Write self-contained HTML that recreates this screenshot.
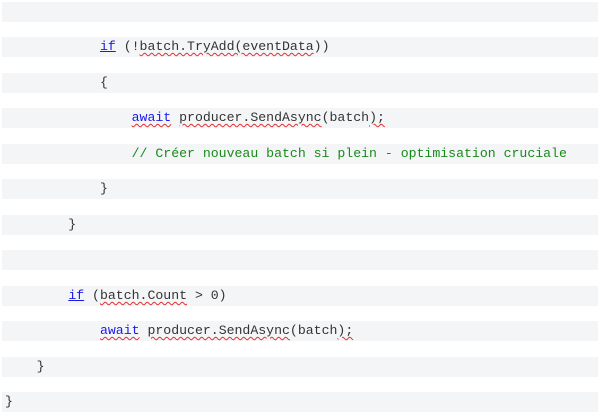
<!DOCTYPE html>
<html><head><meta charset="utf-8"><style>
html,body{margin:0;padding:0;background:#fff;width:600px;height:416px;overflow:hidden;position:relative}
.s{position:absolute;left:2px;width:596px;height:20px;background:#f4f5f7}
.l{position:absolute;left:5px;height:20px;line-height:20px;font-family:"Liberation Mono",monospace;font-size:13.2px;color:#333;white-space:pre}
.k{color:#1a1ae6}
.u{text-decoration:underline;text-decoration-color:#1a1ae6}
.w{text-decoration:underline wavy #e03030;text-decoration-thickness:1px;text-underline-offset:2px}
.c{color:#1a8a1a}
</style></head><body>
<div class="s" style="top:2px"></div>
<div class="s" style="top:37px"></div>
<div class="s" style="top:73px"></div>
<div class="s" style="top:108px"></div>
<div class="s" style="top:144px"></div>
<div class="s" style="top:179px"></div>
<div class="s" style="top:215px"></div>
<div class="s" style="top:250px"></div>
<div class="s" style="top:286px"></div>
<div class="s" style="top:321px"></div>
<div class="s" style="top:357px"></div>
<div class="s" style="top:392px"></div>
<div class="l" style="top:37px">            <span class="k u">if</span> (!<span class="w">batch.TryAdd(eventData</span>))</div>
<div class="l" style="top:73px">            {</div>
<div class="l" style="top:108px">                <span class="k w">await</span> <span class="w">producer.SendAsync</span>(batch<span class="w">);</span></div>
<div class="l" style="top:144px">                <span class="c">// Créer nouveau batch si plein - optimisation cruciale</span></div>
<div class="l" style="top:179px">            }</div>
<div class="l" style="top:215px">        }</div>
<div class="l" style="top:286px">        <span class="k u">if</span> (<span class="w">batch.Count</span> &gt; 0)</div>
<div class="l" style="top:321px">            <span class="k w">await</span> <span class="w">producer.SendAsync</span>(batch<span class="w">);</span></div>
<div class="l" style="top:357px">    }</div>
<div class="l" style="top:392px">}</div>
</body></html>
